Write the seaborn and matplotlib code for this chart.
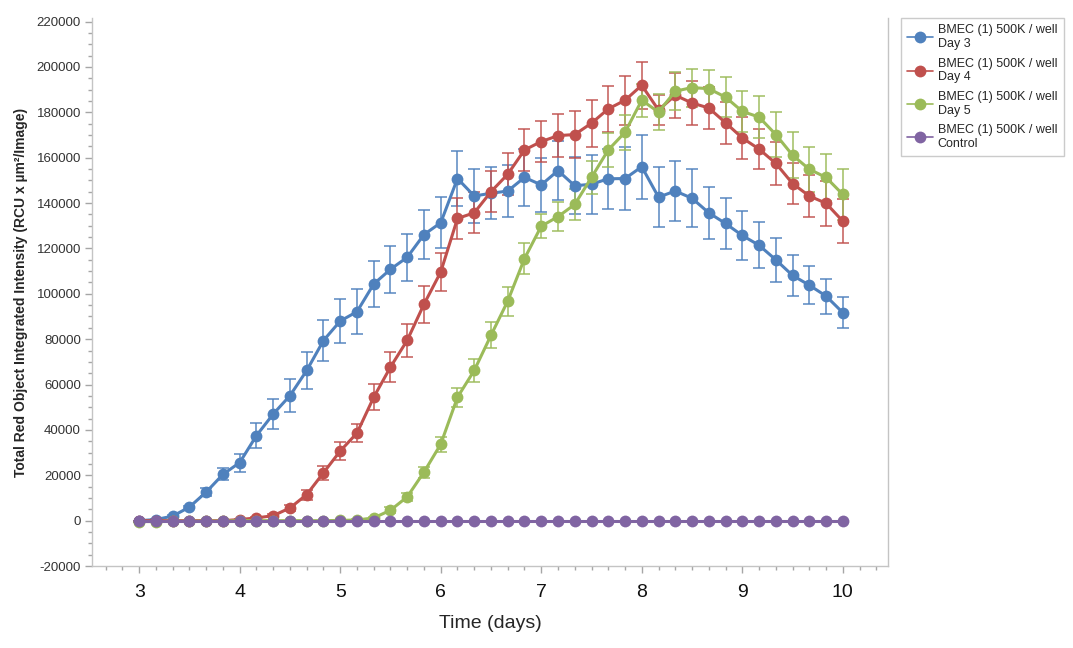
import matplotlib
matplotlib.use('Agg')
import matplotlib.pyplot as plt
from matplotlib.lines import Line2D
from matplotlib.ticker import MultipleLocator, FuncFormatter
import numpy as np
import pandas as pd
import seaborn as sns

# time points (hours after seeding), one scan every 4 h
hours = [72, 76, 80, 84, 88, 92, 96, 100, 104, 108, 112, 116, 120, 124, 128,
         132, 136, 140, 144, 148, 152, 156, 160, 164, 168, 172, 176, 180, 184,
         188, 192, 196, 200, 204, 208, 212, 216, 220, 224, 228, 232, 236, 240]

labels = ["BMEC (1) 500K / well\nDay 3", "BMEC (1) 500K / well\nDay 4",
          "BMEC (1) 500K / well\nDay 5", "BMEC (1) 500K / well\nControl"]
colors = ["#4f81bd", "#c0504d", "#9bbb59", "#8064a2"]

day3 = [0, 500, 2000, 6000, 12600, 20400, 25600, 37500, 47000, 55100, 66200,
        79400, 88000, 92100, 104300, 110800, 116100, 126100, 131300, 150800,
        143100, 144300, 145300, 151300, 148000, 154300, 147600, 148300, 150700,
        150800, 156000, 142600, 145300, 142100, 135700, 131000, 125700, 121400,
        115000, 108100, 103800, 99000, 91700]
day3_err = [0, 200, 400, 600, 1800, 2700, 4000, 5500, 6500, 7200, 8200, 9200,
            9500, 9800, 10200, 10300, 10300, 10900, 11200, 12300, 12000, 11500,
            11500, 12400, 11900, 12900, 12600, 13000, 13300, 13700, 14000, 13100,
            13100, 12800, 11500, 11200, 10800, 10100, 9600, 8900, 8500, 7700, 6700]

day4 = [0, 0, 0, 0, 0, 0, 500, 1200, 2200, 5600, 11500, 21100, 30700, 38600,
        54400, 67700, 79500, 95400, 109600, 133200, 135700, 145000, 152700,
        163400, 167100, 169700, 170200, 175200, 181500, 185300, 191900, 181000,
        187500, 184100, 181900, 175400, 168700, 163800, 157500, 148600, 143100,
        139900, 132000]
day4_err = [0, 0, 0, 0, 0, 0, 200, 500, 800, 1500, 2200, 3100, 4000, 4100, 5700,
            6800, 7300, 8100, 8500, 9100, 9100, 9000, 9200, 9400, 9100, 9600,
            10300, 10300, 10100, 10900, 10300, 6800, 9800, 9600, 9400, 9200,
            9100, 9000, 9500, 9200, 9200, 10000, 9600]

day5 = [-400, -400, -300, -300, -200, -200, 0, 0, 0, 0, 0, 0, 100, 300, 1200,
        4600, 10500, 21400, 33700, 54400, 66200, 81700, 96800, 115500, 129800,
        134000, 139400, 151300, 163400, 171200, 185300, 180100, 189300, 190900,
        190400, 186700, 180400, 177900, 170200, 161100, 154900, 151300, 143800]
day5_err = [0, 0, 0, 0, 0, 0, 0, 0, 0, 0, 0, 0, 100, 300, 600, 1200, 1800, 2400,
            3300, 4100, 5000, 5800, 6400, 6700, 5400, 6500, 6700, 7200, 7400,
            7800, 7200, 7900, 8500, 8400, 8100, 8900, 9200, 9200, 10000, 10000,
            9900, 10300, 11300]

control = [0, 0, 0, 0, 0, 0, 0, 0, 0, 0, 0, 0, 0, 0, 0, 0, 0, 0, 0, 0, 0, 0,
           0, 0, 0, 0, 0, 0, 0, 0, 0, 0, 0, 0, 0, 0, 0, 0, 0, 0, 0, 0, 0]
control_err = [0, 0, 0, 0, 0, 0, 0, 0, 0, 0, 0, 0, 0, 0, 0, 0, 0, 0, 0, 0, 0,
               0, 0, 0, 0, 0, 0, 0, 0, 0, 0, 0, 0, 0, 0, 0, 0, 0, 0, 0, 0, 0, 0]

series = [day3, day4, day5, control]
errors = [day3_err, day4_err, day5_err, control_err]

days = np.array(hours) / 24.0

frames = []
for lab, vals in zip(labels, series):
    frames.append(pd.DataFrame({"day": days, "value": vals, "series": lab}))
df = pd.concat(frames, ignore_index=True)

sns.set_theme(style="white")
plt.rcParams['font.family'] = ['Liberation Sans', 'DejaVu Sans']

fig = plt.figure(figsize=(10.73, 6.48), dpi=100)
ax = fig.add_axes([0.0857, 0.1265, 0.7419, 0.8455])

# error bars under the lines
for vals, errs, c in zip(series, errors, colors):
    ax.errorbar(days, vals, yerr=errs, fmt='none', ecolor=c, elinewidth=1.3,
                capsize=4.5, capthick=1.3, alpha=0.8, zorder=2)

sns.lineplot(data=df, x="day", y="value", hue="series", hue_order=labels,
             palette=colors, marker='o', markersize=8.5, markeredgewidth=0,
             linewidth=2.2, errorbar=None, ax=ax, zorder=3)

ax.set_xlim(2.53, 10.45)
ax.set_ylim(-20000, 221500)
ax.xaxis.set_major_locator(MultipleLocator(1))
ax.xaxis.set_minor_locator(MultipleLocator(1 / 6))
ax.yaxis.set_major_locator(MultipleLocator(20000))
ax.yaxis.set_minor_locator(MultipleLocator(5000))
ax.yaxis.set_major_formatter(FuncFormatter(lambda v, p: f"{int(round(v))}"))

ax.tick_params(which='both', direction='out', bottom=True, left=True,
               color='#a6a6a6', width=1)
ax.tick_params(which='major', length=5)
ax.tick_params(which='minor', length=3)
ax.tick_params(axis='x', labelsize=14, pad=8, labelcolor='#111111')
ax.tick_params(axis='y', labelsize=9.5, pad=3, labelcolor='#333333')

ax.spines['top'].set_visible(False)
for s in ['left', 'bottom', 'right']:
    ax.spines[s].set_color('#c4c4c4')
    ax.spines[s].set_linewidth(1)

ax.set_xlabel("Time (days)", fontsize=14, labelpad=10)
ax.set_ylabel("Total Red Object Integrated Intensity (RCU x µm²/Image)",
              fontsize=10, fontweight='bold')
ax.yaxis.set_label_coords(-0.08, 0.5)

ax.get_legend().remove()
handles = [Line2D([0], [0], color=c, marker='o', markersize=8.5,
                  markeredgewidth=0, linewidth=1.2) for c in colors]
leg = fig.legend(handles, labels, loc='upper left',
                 bbox_to_anchor=(0.8397, 0.972), borderaxespad=0,
                 frameon=True, fancybox=False,
                 edgecolor='#bfbfbf', fontsize=9, handlelength=2.1,
                 labelspacing=0.6, borderpad=0.5, handletextpad=0.35)
leg.get_frame().set_linewidth(1)

plt.savefig("out.png", dpi=100)
plt.close()
